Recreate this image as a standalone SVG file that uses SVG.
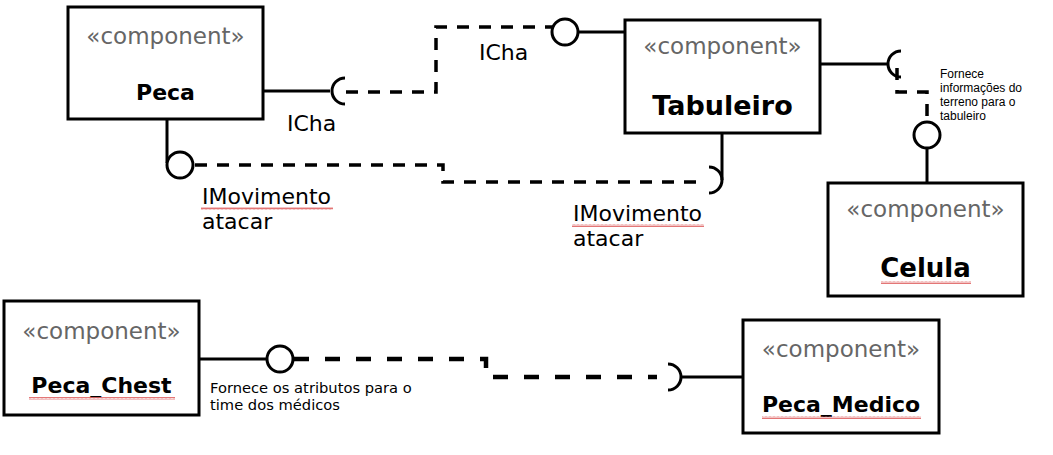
<svg xmlns="http://www.w3.org/2000/svg" width="1053" height="455" viewBox="0 0 1053 455">
<style>
.box{fill:#fff;stroke:#000;stroke-width:3}
.st{font-family:"DejaVu Sans",Verdana,sans-serif;font-size:23px;fill:#666;text-anchor:middle}
.nm{font-family:"DejaVu Sans",Verdana,sans-serif;font-weight:bold;fill:#000;text-anchor:middle}
.lbl{font-family:"DejaVu Sans",Verdana,sans-serif;font-size:22px;fill:#000}
.sm{font-family:"Liberation Sans",Arial,sans-serif;font-size:12px;fill:#000}
.sm2{font-family:"DejaVu Sans",Verdana,sans-serif;font-size:14.7px;fill:#000}
.ln{fill:none;stroke:#000;stroke-width:3}
.dash{fill:none;stroke:#000;stroke-width:3.5;stroke-dasharray:12 10}
.dash2{fill:none;stroke:#000;stroke-width:4.5;stroke-dasharray:15 16}
.ball{fill:#fff;stroke:#000;stroke-width:3}
</style>
<defs>
<pattern id="sq" x="0" y="0" width="4" height="3" patternUnits="userSpaceOnUse">
<path d="M0,2.5 L1,0.5 L2,2.5 L3,0.5 L4,2.5" fill="none" stroke="#e06666" stroke-width="0.9"/>
</pattern>
</defs>
<g id="connectors">
<line class="ln" x1="263" y1="91" x2="330" y2="91"/>
<path class="ln" d="M345,78 A13,13 0 0 0 345,104"/>
<path class="dash" d="M346,92 H436 V27 H553"/>
<circle class="ball" cx="565" cy="32" r="13"/>
<line class="ln" x1="578" y1="32" x2="625" y2="32"/>
<line class="ln" x1="167" y1="119" x2="167" y2="163"/>
<circle class="ball" cx="180" cy="165" r="13"/>
<path class="dash" d="M195,165 H443 V182 H697"/>
<path class="ln" d="M709,167 A13,13 0 0 1 709,193"/>
<line class="ln" x1="722" y1="133" x2="722" y2="180"/>
<line class="ln" x1="820" y1="64" x2="887" y2="64"/>
<path class="ln" d="M901,51 A13,13 0 0 0 901,77"/>
<path class="dash" d="M897,68 V92 H927 V120" stroke-dasharray="9 8"/>
<circle class="ball" cx="927" cy="135" r="13"/>
<line class="ln" x1="927" y1="148" x2="927" y2="183"/>
<line class="ln" x1="199" y1="359" x2="267" y2="359"/>
<circle class="ball" cx="280" cy="359" r="13"/>
<path class="dash2" d="M294,359 H486 V377 H657"/>
<path class="ln" d="M668,364 A13,13 0 0 1 668,390"/>
<line class="ln" x1="681" y1="377" x2="743" y2="377"/>
</g>
<g id="labels">
<text class="lbl" x="287" y="131">ICha</text>
<text class="lbl" x="479" y="60">ICha</text>
<text class="lbl" x="202" y="204">IMovimento</text>
<text class="lbl" x="202" y="229">atacar</text>
<rect x="201" y="207" width="132" height="3" fill="url(#sq)"/>
<text class="lbl" x="573" y="221">IMovimento</text>
<text class="lbl" x="573" y="246">atacar</text>
<rect x="572" y="224" width="132" height="3" fill="url(#sq)"/>
<text class="sm" x="940" y="78">Fornece</text>
<text class="sm" x="940" y="92">informações do</text>
<text class="sm" x="940" y="106">terreno para o</text>
<text class="sm" x="940" y="120">tabuleiro</text>
<text class="sm2" x="210" y="393">Fornece os atributos para o</text>
<text class="sm2" x="210" y="410">time dos médicos</text>
</g>
<g id="Peca">
<rect class="box" x="68" y="7" width="195" height="112"/>
<text class="st" x="165.5" y="44">«component»</text>
<text class="nm" x="165.5" y="100" font-size="22">Peca</text>
</g>
<g id="Tabuleiro">
<rect class="box" x="625" y="20" width="195" height="113"/>
<text class="st" x="722.5" y="54">«component»</text>
<text class="nm" x="722.5" y="115" font-size="27">Tabuleiro</text>
</g>
<g id="Celula">
<rect class="box" x="828" y="183" width="195" height="113"/>
<text class="st" x="925.5" y="217">«component»</text>
<text class="nm" x="925.5" y="277" font-size="26">Celula</text>
<rect x="881" y="281" width="90" height="3" fill="url(#sq)"/>
</g>
<g id="Peca_Chest">
<rect class="box" x="4" y="301" width="195" height="114"/>
<text class="st" x="101.5" y="339">«component»</text>
<text class="nm" x="101.5" y="393" font-size="22">Peca_Chest</text>
<rect x="29" y="397" width="146" height="3" fill="url(#sq)"/>
</g>
<g id="Peca_Medico">
<rect class="box" x="743" y="320" width="196" height="113"/>
<text class="st" x="841" y="357">«component»</text>
<text class="nm" x="841" y="412" font-size="22">Peca_Medico</text>
<rect x="762" y="416" width="159" height="3" fill="url(#sq)"/>
</g>
</svg>
